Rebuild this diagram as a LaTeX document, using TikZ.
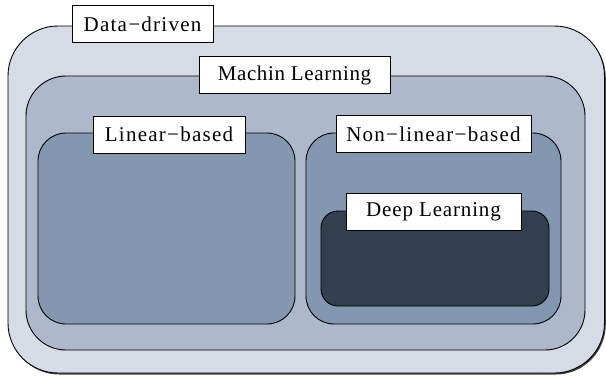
\documentclass[tikz,border=0pt]{standalone}
\usepackage{fontspec}
\setmainfont{Liberation Serif}
\newfontfamily\labfont[LetterSpace=6]{Liberation Serif}
\newfontfamily\labfontb[LetterSpace=3]{Liberation Serif}
\newfontfamily\labfontc[LetterSpace=4]{Liberation Serif}
\definecolor{c1}{HTML}{D6DCE5}
\definecolor{c2}{HTML}{ADB9CA}
\definecolor{c3}{HTML}{8497B0}
\definecolor{c4}{HTML}{323F4F}
\tikzset{
  region/.style={draw=black, line width=0.9pt, rectangle, inner sep=0pt},
  lab/.style={draw=black, fill=white, line width=0.8pt, rectangle, inner sep=0pt,
    minimum height=37pt, font=\labfont\fontsize{21}{24}\selectfont},
}
\begin{document}
\begin{tikzpicture}[x=1pt,y=-1pt]
\useasboundingbox (0,0) rectangle (606,376);
% shadow of outer box
\node[rectangle, fill=black!75, rounded corners=50pt, minimum width=596.5pt, minimum height=347pt, inner sep=0pt] (shadow) at (307.5,201) {};
\node[region, fill=c1, rounded corners=50pt, minimum width=596.5pt, minimum height=347pt] (outer) at (306.25,199.5) {};
\node[region, fill=c2, rounded corners=40pt, minimum width=559pt, minimum height=274pt] (ml) at (305.5,213) {};
\node[region, fill=c3, rounded corners=28pt, minimum width=257pt, minimum height=191pt] (lin) at (166.5,228.5) {};
\node[region, fill=c3, rounded corners=28pt, minimum width=255pt, minimum height=191pt] (nonlin) at (433.5,228.5) {};
\node[region, fill=c4, rounded corners=17pt, minimum width=228pt, minimum height=95pt] (deep) at (435,258.5) {};
\node[lab, minimum width=141pt] (tdd) at (142.5,24) {Data−driven};
\node[lab, minimum width=191pt, font=\labfontb\fontsize{21}{24}\selectfont] (tml) at (294.5,75) {Machin Learning};
\node[lab, minimum width=152pt] (tlin) at (169,134.5) {Linear−based};
\node[lab, minimum width=195pt] (tnon) at (433.5,134) {Non−linear−based};
\node[lab, minimum width=175pt, font=\labfontc\fontsize{21}{24}\selectfont] (tdeep) at (433.5,212) {Deep Learning};
\end{tikzpicture}
\end{document}
